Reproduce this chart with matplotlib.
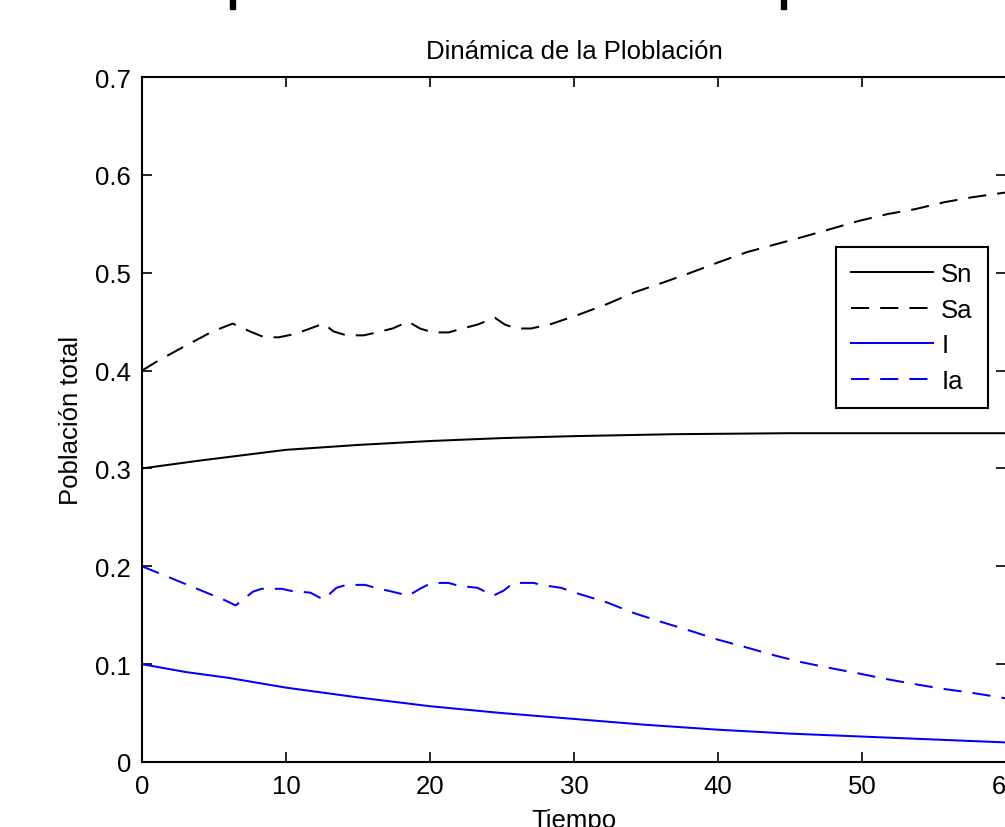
import matplotlib
matplotlib.use('Agg')
import matplotlib.pyplot as plt
from matplotlib.patches import Rectangle

# Poblacion (readings from the picture)
t_sn = [0, 4, 10, 15, 20, 25, 30, 37, 45, 60]
sn = [0.300, 0.308, 0.319, 0.324, 0.328, 0.331, 0.333, 0.335, 0.336, 0.336]

t_sa = [0, 1, 2.6, 4.9, 6.3, 7.5, 8.5, 9.5, 10.5, 11.5, 12.6, 13.3, 14.2,
        15.4, 16.3, 17.4, 18.5, 19.3, 20.2, 21.3, 22, 23.3, 24.5, 25.2, 26,
        27, 28.3, 30.3, 32.3, 34.2, 36.2, 38.1, 40.1, 42, 44, 46, 47.9, 49.8,
        51.8, 53.7, 55.7, 57.6, 59.5, 60]
sa = [0.400, 0.409, 0.422, 0.440, 0.448, 0.440, 0.434, 0.434, 0.437, 0.442,
      0.448, 0.440, 0.436, 0.436, 0.439, 0.443, 0.450, 0.443, 0.439, 0.439,
      0.442, 0.447, 0.454, 0.447, 0.443, 0.443, 0.447, 0.457, 0.468, 0.480,
      0.490, 0.500, 0.511, 0.521, 0.529, 0.537, 0.545, 0.553, 0.560, 0.565,
      0.572, 0.577, 0.581, 0.582]

t_i = [0, 3, 6, 10, 15, 20, 25, 30, 35, 40, 45, 50, 55, 60]
i_vals = [0.100, 0.092, 0.086, 0.076, 0.066, 0.057, 0.050, 0.044, 0.038,
          0.033, 0.029, 0.026, 0.023, 0.020]

t_ia = [0, 1, 3, 5.8, 6.5, 7.7, 8.3, 9.7, 10.3, 11.7, 12.6, 13.5, 14.2, 15.5,
        16.2, 17.4, 18.5, 19.3, 20.1, 21.3, 22, 23.3, 24.4, 25.1, 25.8, 27.2,
        27.7, 29.1, 30.3, 32.3, 34.2, 36.1, 38.1, 40, 42, 43.9, 45.8, 47.8,
        49.6, 51.6, 53.5, 55.5, 57.5, 59.2, 60]
ia = [0.200, 0.194, 0.182, 0.165, 0.160, 0.174, 0.177, 0.177, 0.175, 0.173,
      0.166, 0.178, 0.181, 0.181, 0.178, 0.174, 0.170, 0.177, 0.183, 0.183,
      0.180, 0.178, 0.170, 0.175, 0.183, 0.183, 0.181, 0.178, 0.172, 0.163,
      0.152, 0.143, 0.134, 0.125, 0.117, 0.109, 0.102, 0.096, 0.091, 0.085,
      0.080, 0.075, 0.071, 0.067, 0.065]

labels = ['Sn', 'Sa', 'I', 'Ia']
x_ticks = [0, 10, 20, 30, 40, 50, 60]
y_ticks = [0, 0.1, 0.2, 0.3, 0.4, 0.5, 0.6, 0.7]


def main():
    plt.rcParams['font.family'] = ['Liberation Sans', 'DejaVu Sans']
    fs = 18.5
    lw = 1.45
    dash = (0, (9, 5.5))

    fig = plt.figure(figsize=(10.05, 8.28), dpi=100)
    ax = fig.add_axes([142 / 1005, 65 / 828, 864 / 1005, 685 / 828])

    ax.plot(t_sn, sn, color='k', lw=lw, label=labels[0])
    ax.plot(t_sa, sa, color='k', lw=lw, linestyle=dash, label=labels[1])
    ax.plot(t_i, i_vals, color='#0000ff', lw=lw, label=labels[2])
    ax.plot(t_ia, ia, color='#0000ff', lw=lw, linestyle=dash, label=labels[3])

    ax.set_xlim(0, 60)
    ax.set_ylim(0, 0.7)
    ax.set_xticks(x_ticks)
    ax.set_yticks(y_ticks)
    ax.set_yticklabels(['0', '0.1', '0.2', '0.3', '0.4', '0.5', '0.6', '0.7'])
    ax.tick_params(direction='in', top=True, right=True, length=7.5,
                   width=1.2, labelsize=fs)
    ax.tick_params(axis='x', pad=8.5)
    ax.tick_params(axis='y', pad=8)
    for sp in ax.spines.values():
        sp.set_linewidth(1.5)

    ax.set_title('Dinámica de la Ploblación', fontsize=fs, pad=14)
    ax.set_xlabel('Tiempo', fontsize=fs, labelpad=7)
    ax.set_ylabel('Población total', fontsize=fs, labelpad=9)

    leg = ax.legend(loc='upper left', bbox_to_anchor=(0.803, 0.752),
                    borderaxespad=0, fontsize=fs, handlelength=3.2,
                    handletextpad=0.3, labelspacing=0.45, borderpad=0.6,
                    fancybox=False, framealpha=1)
    leg.get_frame().set_edgecolor('k')
    leg.get_frame().set_linewidth(1.5)

    # black marks at top edge of the picture
    for xl in (230, 781):
        fig.add_artist(Rectangle((xl / 1005, 818 / 828), 5 / 1005, 10 / 828,
                                 transform=fig.transFigure, color='k'))

    fig.savefig('out.png', dpi=100, facecolor='white')


if __name__ == '__main__':
    main()
